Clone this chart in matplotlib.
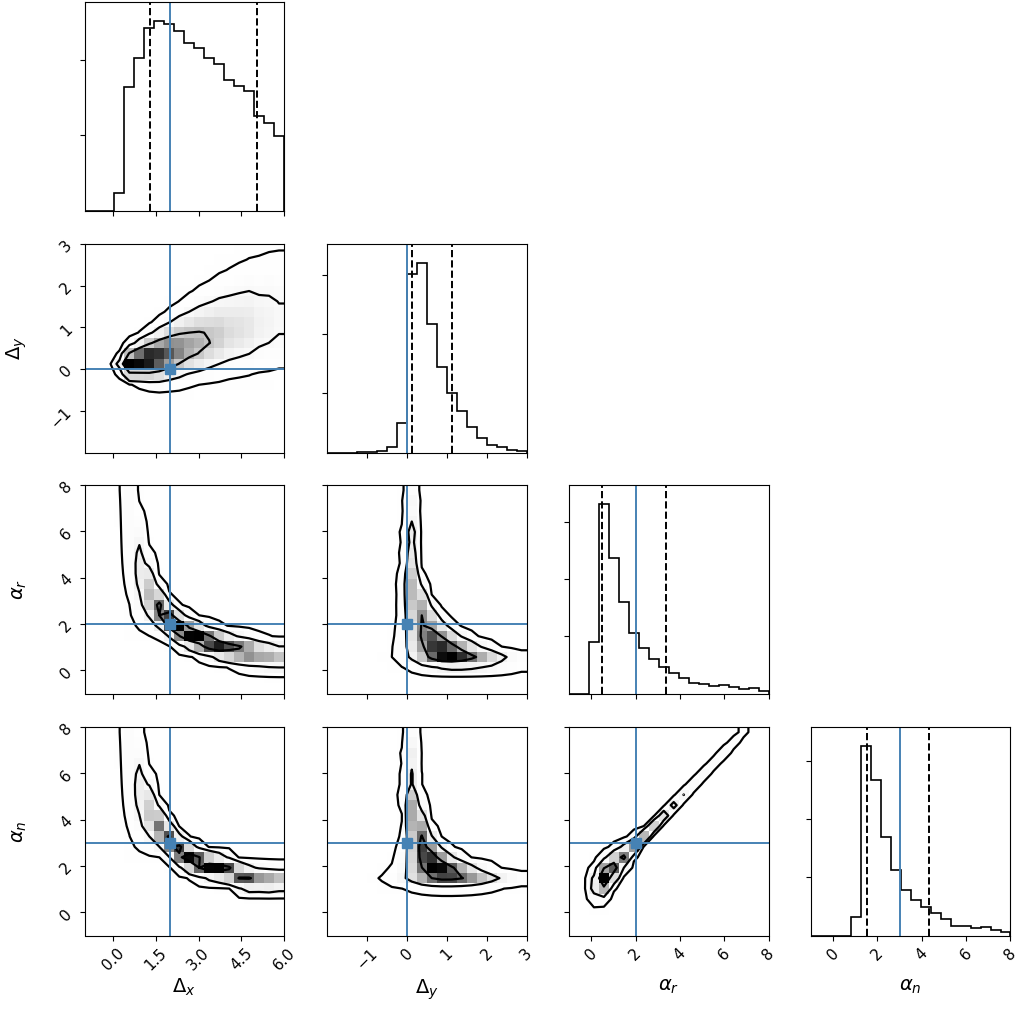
import numpy as np
import matplotlib
matplotlib.use("Agg")
import matplotlib.pyplot as plt
from matplotlib.colors import LinearSegmentedColormap
from matplotlib.ticker import FixedLocator
from math import erf

# parameters of the corner plot
labels = [r"$\Delta_x$", r"$\Delta_y$", r"$\alpha_r$", r"$\alpha_n$"]
ranges = [(-1.0, 6.0), (-2.0, 3.0), (-1.0, 8.0), (-1.0, 8.0)]
tick_vals = [[0.0, 1.5, 3.0, 4.5, 6.0], [-1, 0, 1, 2, 3], [0, 2, 4, 6, 8], [0, 2, 4, 6, 8]]
hist_ticks = [2000, 4000, 6000]
truths = [2.0, 0.0, 2.0, 3.0]
q16 = [1.31, 0.14, 0.50, 1.52]
q84 = [5.05, 1.13, 3.38, 4.34]
nbins = 20
sigma_levels = [1, 2, 3]

# 1D histogram counts (20 bins over each range)
dx_counts = [0, 0, 0, 470, 3290, 4060, 4860, 5050, 4960, 4780,
             4460, 4340, 4070, 3910, 3470, 3330, 3180, 2510, 2340, 1980]
dy_counts = [0, 0, 0, 6, 11, 56, 180, 1010, 6010, 6390,
             4330, 2880, 2000, 1390, 850, 490, 250, 180, 80, 34]
ar_counts = [0, 0, 1800, 6620, 4730, 3200, 2100, 1580, 1220, 940,
             730, 530, 370, 325, 267, 300, 210, 150, 186, 104]
an_counts = [0, 0, 0, 0, 640, 6500, 5330, 3370, 2260, 1570,
             1230, 970, 760, 550, 320, 320, 262, 296, 205, 125]
counts = [dx_counts, dy_counts, ar_counts, an_counts]

# 2D panels: ridge centre and lower/upper spread of one variable, per bin of the other
dy_given_dx_mid = [0.1, 0.1, 0.1, 0.1, 0.12, 0.17, 0.22, 0.28, 0.36, 0.44,
                   0.52, 0.6, 0.68, 0.76, 0.84, 0.9, 0.96, 1.02, 1.07, 1.12]
dy_given_dx_lo = [0.1, 0.1, 0.1, 0.1, 0.16, 0.2, 0.24, 0.28, 0.31, 0.34,
                  0.36, 0.38, 0.4, 0.42, 0.44, 0.46, 0.48, 0.5, 0.52, 0.54]
dy_given_dx_hi = [0.12, 0.12, 0.12, 0.12, 0.2, 0.25, 0.3, 0.35, 0.4, 0.45,
                  0.5, 0.54, 0.58, 0.62, 0.66, 0.7, 0.74, 0.78, 0.82, 0.86]

ar_given_dx_mid = [9.0, 9.0, 9.0, 9.0, 6.5, 4.3, 3.3, 2.65, 2.15, 1.8,
                   1.55, 1.38, 1.2, 1.05, 0.95, 0.85, 0.75, 0.66, 0.6, 0.55]
ar_given_dx_lo = [1.5, 1.5, 1.5, 1.5, 2.0, 1.1, 0.7, 0.45, 0.36, 0.32,
                  0.3, 0.29, 0.28, 0.28, 0.28, 0.28, 0.28, 0.28, 0.28, 0.28]
ar_given_dx_hi = [1.5, 1.5, 1.5, 1.5, 3.0, 1.3, 0.8, 0.5, 0.4, 0.36,
                  0.34, 0.33, 0.32, 0.32, 0.32, 0.32, 0.32, 0.32, 0.32, 0.32]

an_given_dx_mid = [9.0, 9.0, 9.0, 9.0, 7.0, 5.2, 4.3, 3.65, 3.1, 2.65,
                   2.37, 2.16, 2.0, 1.94, 1.84, 1.58, 1.48, 1.44, 1.41, 1.41]
an_given_dx_lo = [1.5, 1.5, 1.5, 1.5, 2.0, 1.1, 0.7, 0.45, 0.36, 0.32,
                  0.3, 0.28, 0.26, 0.26, 0.26, 0.26, 0.26, 0.26, 0.26, 0.26]
an_given_dx_hi = [1.5, 1.5, 1.5, 1.5, 3.0, 1.3, 0.8, 0.5, 0.4, 0.34,
                  0.3, 0.27, 0.25, 0.24, 0.24, 0.24, 0.24, 0.24, 0.24, 0.24]

dy_given_ar_mid = [1.2, 1.2, 1.2, 1.0, 0.75, 0.55, 0.42, 0.33, 0.26, 0.2,
                   0.15, 0.12, 0.11, 0.1, 0.1, 0.1, 0.1, 0.1, 0.1, 0.1]
dy_given_ar_lo = [0.6, 0.6, 0.6, 0.5, 0.4, 0.3, 0.24, 0.19, 0.16, 0.13,
                  0.11, 0.09, 0.08, 0.08, 0.08, 0.08, 0.08, 0.08, 0.08, 0.08]
dy_given_ar_hi = [0.9, 0.9, 0.9, 0.8, 0.6, 0.45, 0.34, 0.26, 0.2, 0.15,
                  0.12, 0.09, 0.08, 0.08, 0.08, 0.08, 0.08, 0.08, 0.08, 0.08]

dy_given_an_mid = [1.0, 1.0, 1.0, 1.0, 1.0, 0.95, 0.7, 0.5, 0.38, 0.3,
                   0.24, 0.2, 0.15, 0.13, 0.12, 0.12, 0.12, 0.12, 0.12, 0.12]
dy_given_an_lo = [0.7, 0.7, 0.7, 0.7, 0.7, 0.6, 0.4, 0.28, 0.2, 0.15,
                  0.12, 0.1, 0.09, 0.09, 0.09, 0.09, 0.09, 0.09, 0.09, 0.09]
dy_given_an_hi = [0.9, 0.9, 0.9, 0.9, 0.9, 0.85, 0.6, 0.4, 0.28, 0.2,
                  0.15, 0.12, 0.1, 0.09, 0.09, 0.09, 0.09, 0.09, 0.09, 0.09]

an_given_ar_mid = [1.0, 1.0, 1.2, 1.5, 1.95, 2.4, 2.85, 3.3, 3.75, 4.2,
                   4.65, 5.1, 5.55, 6.0, 6.45, 6.9, 7.35, 7.8, 8.25, 8.7]
an_given_ar_lo = [0.4, 0.4, 0.4, 0.4, 0.35, 0.25, 0.16, 0.12, 0.1, 0.1,
                  0.1, 0.1, 0.1, 0.1, 0.1, 0.1, 0.1, 0.1, 0.1, 0.1]
an_given_ar_hi = [0.4, 0.4, 0.4, 0.4, 0.35, 0.25, 0.16, 0.12, 0.1, 0.1,
                  0.1, 0.1, 0.1, 0.1, 0.1, 0.1, 0.1, 0.1, 0.1, 0.1]

blue = "#4682b4"
erf_v = np.vectorize(erf)


def split_cdf(y, c, lo, hi):
    s = np.where(y < c, lo, hi)
    phi = 0.5 * (1 + erf_v((y - c) / (s * np.sqrt(2))))
    return np.where(y < c, 2 * lo / (lo + hi) * phi,
                    lo / (lo + hi) + 2 * hi / (lo + hi) * (phi - 0.5))


def cond_hist(weights, mid, lo, hi, rng):
    edges = np.linspace(rng[0], rng[1], nbins + 1)
    H = np.zeros((nbins, nbins))
    for i in range(nbins):
        H[i] = weights[i] * np.diff(split_cdf(edges, mid[i], lo[i], hi[i]))
    return H


# H[x_bin, y_bin] for each (row, col) panel
panels = {
    (1, 0): cond_hist(dx_counts, dy_given_dx_mid, dy_given_dx_lo, dy_given_dx_hi, ranges[1]),
    (2, 0): cond_hist(dx_counts, ar_given_dx_mid, ar_given_dx_lo, ar_given_dx_hi, ranges[2]),
    (3, 0): cond_hist(dx_counts, an_given_dx_mid, an_given_dx_lo, an_given_dx_hi, ranges[3]),
    (2, 1): cond_hist(ar_counts, dy_given_ar_mid, dy_given_ar_lo, dy_given_ar_hi, ranges[1]).T,
    (3, 1): cond_hist(an_counts, dy_given_an_mid, dy_given_an_lo, dy_given_an_hi, ranges[1]).T,
    (3, 2): cond_hist(ar_counts, an_given_ar_mid, an_given_ar_lo, an_given_ar_hi, ranges[3]),
}

density_cmap = LinearSegmentedColormap.from_list("density", ["k", (1, 1, 1, 0)])
levels = 1.0 - np.exp(-0.5 * np.array(sigma_levels, float) ** 2)


def draw_2d(ax, H, xr, yr):
    xe = np.linspace(xr[0], xr[1], nbins + 1)
    ye = np.linspace(yr[0], yr[1], nbins + 1)
    Hflat = np.sort(H.ravel())[::-1]
    sm = np.cumsum(Hflat)
    sm /= sm[-1]
    V = []
    for v in levels:
        sel = Hflat[sm <= v]
        V.append(sel[-1] if len(sel) else Hflat[0])
    V = np.unique(V)
    ax.pcolormesh(xe, ye, H.max() - H.T, cmap=density_cmap, shading="flat")
    # padded grid so the lines run to the edges
    X1 = 0.5 * (xe[1:] + xe[:-1])
    Y1 = 0.5 * (ye[1:] + ye[:-1])
    H2 = H.min() + np.zeros((nbins + 4, nbins + 4))
    H2[2:-2, 2:-2] = H
    H2[2:-2, 1] = H[:, 0]
    H2[2:-2, -2] = H[:, -1]
    H2[1, 2:-2] = H[0]
    H2[-2, 2:-2] = H[-1]
    H2[1, 1] = H[0, 0]
    H2[1, -2] = H[0, -1]
    H2[-2, 1] = H[-1, 0]
    H2[-2, -2] = H[-1, -1]
    X2 = np.concatenate([X1[0] + np.array([-2, -1]) * np.diff(X1[:2]), X1,
                         X1[-1] + np.array([1, 2]) * np.diff(X1[-2:])])
    Y2 = np.concatenate([Y1[0] + np.array([-2, -1]) * np.diff(Y1[:2]), Y1,
                         Y1[-1] + np.array([1, 2]) * np.diff(Y1[-2:])])
    ax.contour(X2, Y2, H2.T, V, colors="k", linewidths=1.6)


W, Hpx = 1017, 1023
fig = plt.figure(figsize=(W / 100, Hpx / 100), dpi=100)
col_left = [84.5, 327, 569, 811]
row_top = [2, 244, 485, 727]
aw, ah = 199.5, 208.5

for i in range(4):
    for j in range(i + 1):
        ax = fig.add_axes([col_left[j] / W, 1 - (row_top[i] + ah) / Hpx, aw / W, ah / Hpx])
        if i == j:
            edges = np.linspace(ranges[i][0], ranges[i][1], nbins + 1)
            ax.stairs(counts[i], edges, color="k", lw=1.2)
            ax.set_ylim(0, 1.1 * max(counts[i]))
            ax.axvline(q16[i], ls="--", color="k", lw=1.4)
            ax.axvline(q84[i], ls="--", color="k", lw=1.4)
            ax.axvline(truths[i], color=blue, lw=1.4)
            ax.yaxis.set_major_locator(FixedLocator(hist_ticks))
            ax.set_yticklabels([])
        else:
            draw_2d(ax, panels[(i, j)], ranges[j], ranges[i])
            ax.axvline(truths[j], color=blue, lw=1.4)
            ax.axhline(truths[i], color=blue, lw=1.4)
            ax.plot(truths[j], truths[i], "s", color=blue, ms=7)
            ax.set_ylim(ranges[i])
            ax.yaxis.set_major_locator(FixedLocator(tick_vals[i]))
            if j == 0:
                for t in ax.get_yticklabels():
                    t.set_rotation(45)
                    t.set_fontsize(11)
                ax.set_ylabel(labels[i], fontsize=14)
                ax.yaxis.set_label_coords(-0.28, 0.5)
            else:
                ax.set_yticklabels([])
        ax.set_xlim(ranges[j])
        ax.xaxis.set_major_locator(FixedLocator(tick_vals[j]))
        if i == 3:
            for t in ax.get_xticklabels():
                t.set_rotation(45)
                t.set_fontsize(11)
            ax.set_xlabel(labels[j], fontsize=14)
            ax.xaxis.set_label_coords(0.5, -0.2)
        else:
            ax.set_xticklabels([])

fig.savefig("out.png", dpi=100)
